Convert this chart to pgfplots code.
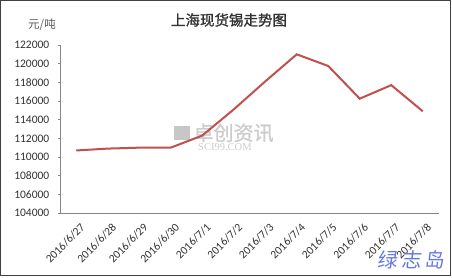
\documentclass[border=0pt]{standalone}
\usepackage{pgfplots}
\pgfplotsset{compat=1.18}
\usepackage{fontspec}
\setmainfont{Carlito}
\newfontfamily\cjk{Noto Sans CJK SC}
\newfontfamily\cjkb[FakeBold=1.2]{Noto Sans CJK SC}
\newfontfamily\serifwm{Liberation Serif}
\definecolor{linered}{RGB}{192,80,77}
\definecolor{axgray}{RGB}{134,134,134}
\definecolor{txt}{RGB}{50,50,50}
\begin{document}
\begin{tikzpicture}
\useasboundingbox (0,0) rectangle (452pt,278pt);
\draw[line width=1.2pt, color=black!75] (0.8pt,2.5pt) rectangle (450.5pt,277.4pt);
\node[text=black!20, font=\cjkb\fontsize{20}{20}\selectfont, inner sep=0pt, anchor=west] at (174pt,145pt) {\textcolor{black!22}{\rule{16pt}{14pt}}\,卓创资讯};
\node[text=black!20, font=\serifwm\fontsize{10.5}{10.5}\selectfont, inner sep=0pt, anchor=west] at (198pt,131pt) {SCI99.COM};
\begin{axis}[
  at={(60.5pt,65pt)}, anchor=south west,
  scale only axis, width=378pt, height=168pt,
  xmin=-0.5, xmax=11.5, ymin=104000, ymax=122000,
  axis x line=bottom, axis y line=left,
  axis line style={-, color=axgray, line width=0.8pt},
  xtick={0,...,11},
  xticklabels={2016/6/27,2016/6/28,2016/6/29,2016/6/30,2016/7/1,2016/7/2,2016/7/3,2016/7/4,2016/7/5,2016/7/6,2016/7/7,2016/7/8},
  x tick style={draw=none},
  extra x ticks={-0.5,0.5,1.5,2.5,3.5,4.5,5.5,6.5,7.5,8.5,9.5,10.5,11.5},
  extra x tick labels={},
  extra x tick style={tick align=center, major tick length=6pt, tick style={draw=axgray, line width=0.8pt}},
  ytick={104000,106000,...,122000},
  scaled y ticks=false,
  y tick style={draw=axgray, line width=0.8pt},
  tick align=outside, major tick length=3pt,
  yticklabel style={font=\fontsize{11.5}{12}\selectfont, text=txt, anchor=east, inner sep=0pt, xshift=-8pt},
  xticklabel style={font=\fontsize{11.5}{12}\selectfont, text=txt, rotate=45, anchor=north east, inner sep=0pt, xshift=-2pt, yshift=-7pt},
  /pgf/number format/.cd, fixed, set thousands separator={}, assume math mode=true,
]
\addplot[color=linered, line width=2pt, sharp plot] coordinates {
(0,110700) (1,110900) (2,111000) (3,111000) (4,112300) (5,115100)
(6,118100) (7,121000) (8,119750) (9,116250) (10,117700) (11,114900)
};
\end{axis}
\node[font=\cjkb\fontsize{14.5}{15}\selectfont, text=txt] at (229pt,258pt) {上海现货锡走势图};
\node[font=\cjk\fontsize{11.5}{12}\selectfont, text=txt!80] at (42pt,253pt) {元/吨};
\node[font=\cjk\fontsize{20}{20}\selectfont, text={rgb,255:red,100;green,120;blue,225}, xslant=0.12, inner sep=0pt] at (412pt,18pt) {绿\,志\,岛};
\end{tikzpicture}
\end{document}
